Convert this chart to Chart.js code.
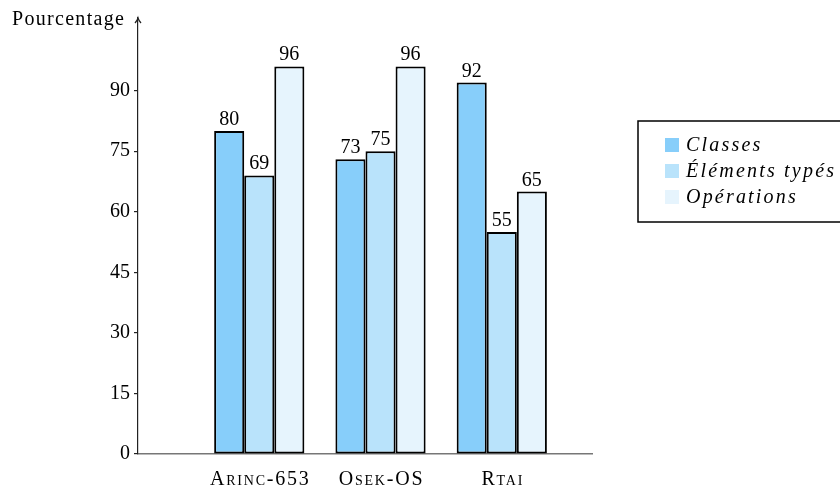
<!DOCTYPE html>
<html>
<head>
<meta charset="utf-8">
<script src="https://cdn.jsdelivr.net/npm/chart.js@4.4.0/dist/chart.umd.min.js"></script>
<style>
html,body{margin:0;padding:0;background:#fff;}
#wrap{width:840px;height:491px;position:relative;}
</style>
</head>
<body>
<div id="wrap"><canvas id="c" width="840" height="491"></canvas></div>
<script>
const categories = ['Arinc-653', 'Osek-OS', 'Rtai'];
const seriesNames = ['Classes', 'Éléments typés', 'Opérations'];
const classes = [80, 73, 92];
const elements = [69, 75, 55];
const operations = [96, 96, 65];
const yTicks = [0, 15, 30, 45, 60, 75, 90];
const yTitle = 'Pourcentage';
const colors = ['#87CEFA', '#B9E3FB', '#E6F4FD'];

const FAM = "'Liberation Serif', 'DejaVu Serif', serif";
const toPts = arr => arr.map((v, i) => ({x: i + 1, y: v}));

const extras = {
  id: 'extras',
  afterDatasetsDraw(chart) {
    const ctx = chart.ctx;
    ctx.save();
    ctx.fillStyle = '#000';
    ctx.font = '20px ' + FAM;
    ctx.textAlign = 'center';
    ctx.textBaseline = 'alphabetic';
    chart.data.datasets.forEach((ds, di) => {
      const meta = chart.getDatasetMeta(di);
      meta.data.forEach((bar, i) => {
        ctx.fillText(String(ds.data[i].y), bar.x, bar.y - 6);
      });
    });
    ctx.restore();
  },
  afterDraw(chart) {
    const ctx = chart.ctx;
    const ca = chart.chartArea;
    ctx.save();
    // arrow at top of y axis
    ctx.strokeStyle = '#222';
    ctx.lineWidth = 1.2;
    ctx.beginPath();
    ctx.moveTo(ca.left - 3, ca.top + 5);
    ctx.quadraticCurveTo(ca.left - 0.5, ca.top + 2, ca.left, ca.top);
    ctx.quadraticCurveTo(ca.left + 0.5, ca.top + 2, ca.left + 3, ca.top + 5);
    ctx.stroke();
    // axis title
    ctx.fillStyle = '#000';
    ctx.font = '20px ' + FAM;
    ctx.letterSpacing = '1.3px';
    ctx.textAlign = 'left';
    ctx.textBaseline = 'alphabetic';
    ctx.fillText(yTitle, 12, 25);
    // x category labels in small caps
    const xs = chart.scales.x;
    ctx.font = 'small-caps 20px ' + FAM;
    ctx.letterSpacing = '1.8px';
    ctx.textAlign = 'center';
    categories.forEach((c, i) => {
      ctx.fillText(c, xs.getPixelForValue(i + 1) + 1, 485);
    });
    // legend
    const bx = 638, by = 121, bw = 210, bh = 101;
    ctx.letterSpacing = '0px';
    ctx.strokeStyle = '#000';
    ctx.lineWidth = 1.5;
    ctx.strokeRect(bx, by, bw, bh);
    ctx.font = 'italic 20px ' + FAM;
    ctx.letterSpacing = '2.2px';
    ctx.textAlign = 'left';
    chart.data.datasets.forEach((ds, i) => {
      const cy = 145 + i * 26;
      ctx.fillStyle = ds.backgroundColor;
      ctx.fillRect(665, cy - 7, 14, 14);
      ctx.fillStyle = '#000';
      ctx.fillText(ds.label, 686, cy + 6);
    });
    ctx.restore();
  }
};

new Chart(document.getElementById('c'), {
  type: 'bar',
  data: {
    datasets: [
      {label: seriesNames[0], data: toPts(classes), backgroundColor: colors[0]},
      {label: seriesNames[1], data: toPts(elements), backgroundColor: colors[1]},
      {label: seriesNames[2], data: toPts(operations), backgroundColor: colors[2]}
    ].map(d => Object.assign(d, {borderColor: '#000', borderWidth: 2, borderSkipped: false}))
  },
  options: {
    responsive: false,
    animation: false,
    devicePixelRatio: 1,
    layout: {padding: {top: 18, right: 248, left: 0, bottom: 0}},
    datasets: {bar: {categoryPercentage: 0.744, barPercentage: 1}},
    plugins: {legend: {display: false}, tooltip: {enabled: false}},
    scales: {
      x: {
        type: 'linear',
        offset: false,
        min: 0,
        max: 3.744,
        afterBuildTicks: s => { s.ticks = categories.map((c, i) => ({value: i + 1})); },
        afterFit: s => { s.height = 37; },
        ticks: {display: false},
        grid: {display: false, offset: false},
        border: {color: '#777', width: 1.6}
      },
      y: {
        min: 0,
        max: 108,
        afterBuildTicks: s => { s.ticks = yTicks.map(v => ({value: v})); },
        afterFit: s => { s.width = 138; },
        ticks: {color: '#000', font: {family: FAM, size: 20}, padding: 4},
        grid: {drawOnChartArea: false, drawTicks: true, tickLength: 4, color: '#222', lineWidth: 1.2},
        border: {color: '#222', width: 1.2}
      }
    }
  },
  plugins: [extras]
});
</script>
</body>
</html>
